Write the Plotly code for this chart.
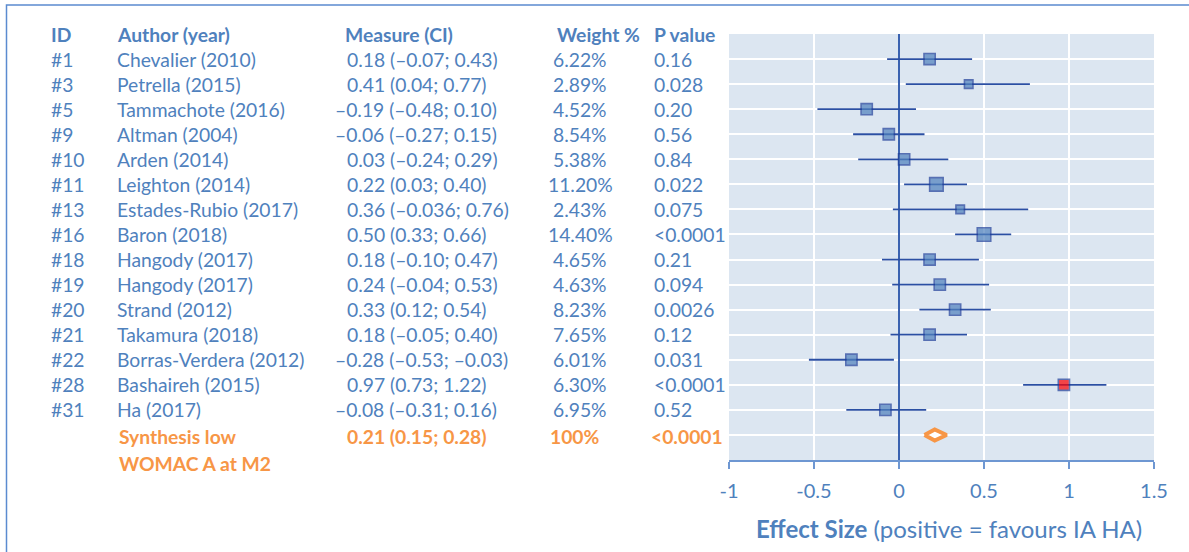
import plotly.graph_objects as go

# ---------------- data ----------------
study_ids = ["#1", "#3", "#5", "#9", "#10", "#11", "#13", "#16", "#18", "#19",
             "#20", "#21", "#22", "#28", "#31"]
authors = ["Chevalier (2010)", "Petrella (2015)", "Tammachote (2016)", "Altman (2004)",
           "Arden (2014)", "Leighton (2014)", "Estades-Rubio (2017)", "Baron (2018)",
           "Hangody (2017)", "Hangody (2017)", "Strand (2012)", "Takamura (2018)",
           "Borras-Verdera (2012)", "Bashaireh (2015)", "Ha (2017)"]
effect = [0.18, 0.41, -0.19, -0.06, 0.03, 0.22, 0.36, 0.50, 0.18, 0.24, 0.33, 0.18, -0.28, 0.97, -0.08]
ci_low = [-0.07, 0.04, -0.48, -0.27, -0.24, 0.03, -0.036, 0.33, -0.10, -0.04, 0.12, -0.05, -0.53, 0.73, -0.31]
ci_high = [0.43, 0.77, 0.10, 0.15, 0.29, 0.40, 0.76, 0.66, 0.47, 0.53, 0.54, 0.40, -0.03, 1.22, 0.16]
weights = [6.22, 2.89, 4.52, 8.54, 5.38, 11.20, 2.43, 14.40, 4.65, 4.63, 8.23, 7.65, 6.01, 6.30, 6.95]
p_values = ["0.16", "0.028", "0.20", "0.56", "0.84", "0.022", "0.075", "<0.0001", "0.21", "0.094",
            "0.0026", "0.12", "0.031", "<0.0001", "0.52"]
highlighted = ["#28"]

synth_label = ["Synthesis low", "WOMAC A at M2"]
synth_effect = 0.21
synth_low = 0.15
synth_high = 0.28
synth_weight = "100%"
synth_p = "<0.0001"

headers = ["ID", "Author (year)", "Measure (CI)", "Weight %", "P value"]
x_ticks = [-1, -0.5, 0, 0.5, 1, 1.5]
x_tick_text = ["-1", "-0.5", "0", "0.5", "1", "1.5"]

# ---------------- styles ----------------
BLUE = "#4F81BD"
DARK = "#2B4FA3"
ORANGE = "#F79646"
BG = "#DCE6F1"
FONT = "Lato"
FS = 19.3

W, H = 1189, 552
ML, MR, MT, MB = 729, 35, 34, 92
PW = W - ML - MR
PH = H - MT - MB
NROWS = 17


def px2paper(px):
    return (px - ML) / PW


def row2paper(r):
    return 1 - r / NROWS


def fmt(v):
    s = f"{abs(v):.2f}" if round(v, 2) == v else f"{abs(v):.3f}"
    return ("–" if v < 0 else "") + s


def msize(w):
    if w < 3:
        return 8.5
    if w > 10:
        return 13.5
    return 11.2


rows = list(range(1, len(study_ids) + 1))
synth_row = len(study_ids) + 1

fig = go.Figure()

fig.add_trace(go.Scatter(
    x=effect, y=rows, mode="markers",
    marker=dict(symbol="square", size=[msize(w) for w in weights],
                color=["#FF0000" if s in highlighted else BLUE for s in study_ids],
                line=dict(color="#1F3F99", width=1.6)),
    error_x=dict(type="data", symmetric=False,
                 array=[h - e for h, e in zip(ci_high, effect)],
                 arrayminus=[e - l for e, l in zip(effect, ci_low)],
                 color=DARK, thickness=1.8, width=0),
    showlegend=False, hoverinfo="skip"))

dh = 0.22
fig.add_trace(go.Scatter(
    x=[synth_low, synth_effect, synth_high, synth_effect, synth_low],
    y=[synth_row, synth_row - dh, synth_row, synth_row + dh, synth_row],
    mode="lines", fill="toself", fillcolor="white",
    line=dict(color=ORANGE, width=4), showlegend=False, hoverinfo="skip"))

# ---------------- table text ----------------
col_x = {"id": 49, "author": 115, "measure": 345, "weight": 580, "p": 652}
ann = []


def add_text(text, px, row, color=BLUE, bold=False, anchor="left", xshift=0, yshift=0):
    t = f"<b>{text}</b>" if bold else text
    ann.append(dict(text=t, xref="paper", yref="paper", x=px2paper(px), y=row2paper(row),
                    xanchor=anchor, yanchor="middle", showarrow=False, xshift=xshift,
                    yshift=yshift, font=dict(family=FONT, size=FS, color=color)))


header_x = [49, 115, 343, 555, 652]
for h, hx in zip(headers, header_x):
    add_text(h, hx, 0, bold=True, yshift=0)

for i, r in enumerate(rows):
    add_text(study_ids[i], col_x["id"], r)
    add_text(authors[i], col_x["author"], r)
    m = f"{fmt(effect[i])} ({fmt(ci_low[i])}; {fmt(ci_high[i])})"
    add_text(m, col_x["measure"], r, xshift=-12 if effect[i] < 0 else 0)
    add_text(f"{weights[i]:.2f}%", col_x["weight"], r, anchor="center")
    add_text(p_values[i], col_x["p"], r)

add_text(synth_label[0], 117, synth_row, color=ORANGE, bold=True, yshift=-2)
add_text(synth_label[1], 117, synth_row + 1, color=ORANGE, bold=True, yshift=-3)
add_text(f"{fmt(synth_effect)} ({fmt(synth_low)}; {fmt(synth_high)})", col_x["measure"], synth_row,
         color=ORANGE, bold=True, yshift=-2)
add_text(synth_weight, 575, synth_row, color=ORANGE, bold=True, anchor="center", yshift=-2)
add_text(synth_p, 649, synth_row, color=ORANGE, bold=True, yshift=-2)

# axis title
ann.append(dict(text="<b>Effect Size</b> (positive = favours IA HA)", xref="paper", yref="paper",
                x=px2paper(949), y=-(528 - (H - MB)) / PH,
                xanchor="center", yanchor="middle", showarrow=False,
                font=dict(family=FONT, size=24, color=BLUE)))

fig.update_layout(
    width=W, height=H, margin=dict(l=ML, r=MR, t=MT, b=MB),
    paper_bgcolor="white", plot_bgcolor=BG,
    annotations=ann,
    shapes=[dict(type="rect", xref="paper", yref="paper",
                 x0=px2paper(6.5), x1=px2paper(W + 20),
                 y0=((H - MB) - (H + 20)) / PH, y1=((H - MB) - 5) / PH,
                 line=dict(color="#5B8BD0", width=1.5), fillcolor="rgba(0,0,0,0)", layer="above")],
    xaxis=dict(range=[-1, 1.5], tickvals=x_ticks, ticktext=x_tick_text,
               showgrid=True, gridcolor="white", gridwidth=2,
               zeroline=True, zerolinecolor="#3A62B0", zerolinewidth=1.5,
               showline=True, linecolor="#6E97D2", linewidth=2,
               ticks="outside", ticklen=7, tickcolor="#6E97D2", tickwidth=2,
               ticklabelstandoff=5,
               tickfont=dict(family=FONT, size=20, color=BLUE), fixedrange=True),
    yaxis=dict(range=[NROWS, 0], tickvals=list(range(0, NROWS)), showticklabels=False,
               showgrid=True, gridcolor="white", gridwidth=2, zeroline=False,
               showline=False, ticks="", fixedrange=True),
)

fig.write_html("out.html", config={"displayModeBar": False},
               post_script="document.body.style.margin='0';document.body.style.overflow='hidden';")
